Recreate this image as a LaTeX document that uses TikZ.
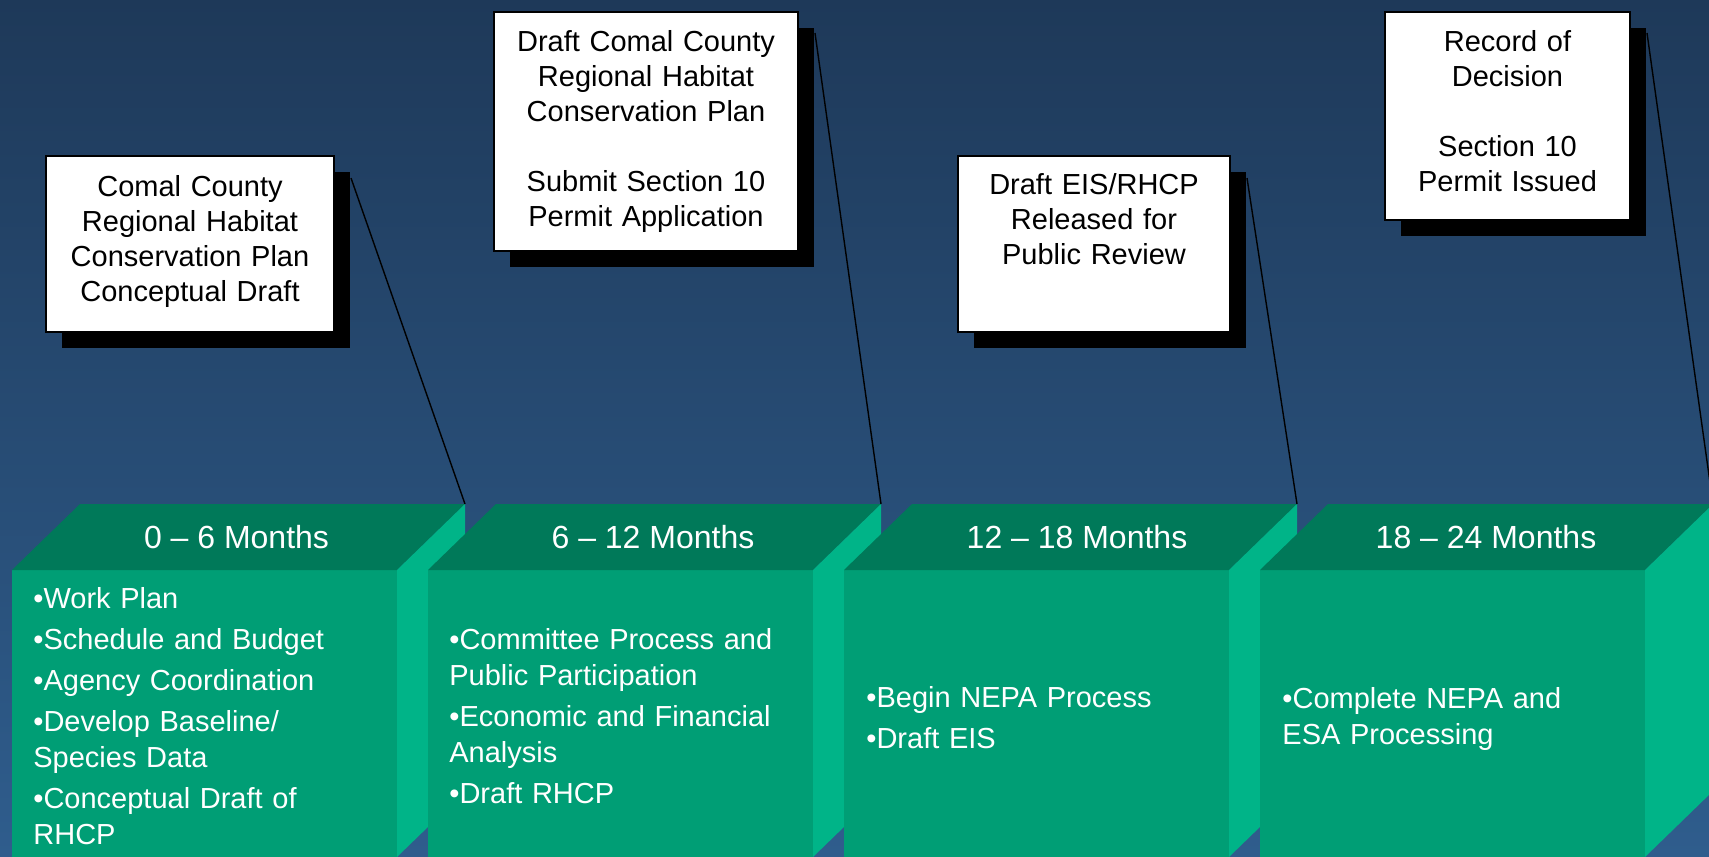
\documentclass[tikz,border=0pt]{standalone}
\usepackage{fontspec}
\setmainfont{Liberation Sans}
\usepackage{xcolor}
\definecolor{BgTop}{RGB}{30,57,89}
\definecolor{BgBot}{RGB}{47,93,141}
\definecolor{TopFace}{RGB}{0,121,89}
\definecolor{FrontFace}{RGB}{0,158,117}
\definecolor{SideFace}{RGB}{0,180,136}
\usepackage{tikz}
\usetikzlibrary{shadows}
\tikzstyle{Note}=[draw=black,line width=1pt,fill=white,inner sep=0pt,
align=center,anchor=north west,font=\fontsize{14.5}{17.5}\selectfont,
drop shadow={shadow xshift=8pt,shadow yshift=-8pt,fill=black,opacity=1}]
\tikzstyle{Items}=[text=white,inner sep=0pt,anchor=base west,align=left,
text width=175pt,font=\fontsize{14.5}{18}\selectfont]
\tikzstyle{Span}=[text=white,inner sep=0pt,font=\fontsize{16}{18}\selectfont]
\tikzstyle{Link}=[draw=black,line width=0.7pt]
\newcommand{\PhaseBlock}[2]{%
  \fill[FrontFace] (#1,570) rectangle (#1+385,857);
  \fill[TopFace] (#1,570) -- (#1+68,504) -- (#1+453,504) -- (#1+385,570) -- cycle;
  \fill[SideFace] (#1+385,570) -- (#1+453,504) -- (#1+453,791) -- (#1+385,857) -- cycle;
  \coordinate (#2) at (#1+453,504);}

\begin{document}
\begin{tikzpicture}[x=0.5pt,y=-0.5pt]
        \useasboundingbox (0,0) rectangle (1709,857);
        \clip (0,0) rectangle (1709,857);
        \shade[top color=BgTop,bottom color=BgBot] (0,0) rectangle (1709,857);
        % phases
        \PhaseBlock{12}{t1}
        \PhaseBlock{428}{t2}
        \PhaseBlock{844}{t3}
        \PhaseBlock{1260}{t4}
        \node[Span](h1)at(236.5,537){0 -- 6 Months};
        \node[Span](h2)at(653,537){6 -- 12 Months};
        \node[Span](h3)at(1077,537){12 -- 18 Months};
        \node[Span](h4)at(1486,537){18 -- 24 Months};
        \node[Items](b1)at(33,608){%
                •Work Plan\\[2.6pt]•Schedule and Budget\\[2.6pt]%
                •Agency Coordination\\[2.6pt]•Develop Baseline/\\Species Data\\[2.6pt]%
                •Conceptual Draft of\\RHCP};
        \node[Items](b2)at(449,649){%
                •Committee Process and\\Public Participation\\[2.6pt]%
                •Economic and Financial\\Analysis\\[2.6pt]•Draft RHCP};
        \node[Items](b3)at(866,707){•Begin NEPA Process\\[2.6pt]•Draft EIS};
        \node[Items](b4)at(1282,708){•Complete NEPA and\\ESA Processing};
        % milestones
        \node[Note,text width=144pt,text height=20pt,text depth=68pt](c1)
                at(45,155){Comal County\\Regional Habitat\\Conservation Plan\\Conceptual Draft};
        \node[Note,text width=152pt,text height=19.5pt,text depth=100pt](c2)
                at(493,11){Draft Comal County\\Regional Habitat\\Conservation Plan\\[17.5pt]%
                Submit Section 10\\Permit Application};
        \node[Note,text width=136pt,text height=19pt,text depth=69pt](c3)
                at(957,155){Draft EIS/RHCP\\Released for\\Public Review};
        \node[Note,text width=122.5pt,text height=19.5pt,text depth=84.5pt](c4)
                at(1384,11){Record of\\Decision\\[17.5pt]Section 10\\Permit Issued};
        \coordinate(s1)at([shift={(8pt,-11.5pt)}]c1.north east);
        \coordinate(s2)at([shift={(8pt,-11pt)}]c2.north east);
        \coordinate(s3)at([shift={(8pt,-11.5pt)}]c3.north east);
        \coordinate(s4)at([shift={(8pt,-11pt)}]c4.north east);
        \draw[Link](s1)--(t1);
        \draw[Link](s2)--(t2);
        \draw[Link](s3)--(t3);
        \draw[Link](s4)--(t4);
\end{tikzpicture}
\end{document}
